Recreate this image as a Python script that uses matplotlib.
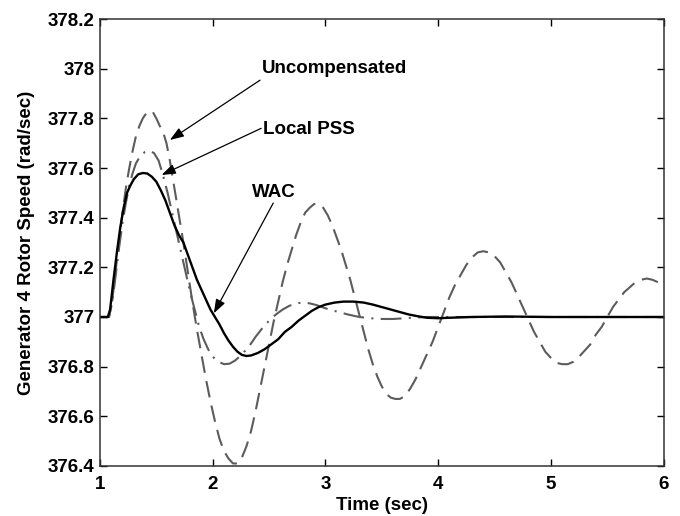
"""
generator 4 rotor speed after a disturbance: uncompensated, local PSS, WAC
"""
import numpy as np
import matplotlib
matplotlib.use('Agg')
import matplotlib.pyplot as plt

# --- Data
t_unc = [1.00, 1.08, 1.11, 1.14, 1.17, 1.20, 1.23, 1.26, 1.29, 1.32, 1.35, 1.38, 1.41, 1.44, 1.47,
         1.50, 1.53, 1.56, 1.59, 1.62, 1.66, 1.70, 1.74, 1.78, 1.82, 1.86, 1.90, 1.94, 1.98, 2.02,
         2.06, 2.10, 2.14, 2.18, 2.22, 2.26, 2.30, 2.34, 2.38, 2.42, 2.46, 2.50, 2.54, 2.58, 2.62,
         2.66, 2.70, 2.74, 2.78, 2.82, 2.86, 2.90, 2.94, 2.98, 3.02, 3.06, 3.10, 3.14, 3.18, 3.22,
         3.26, 3.30, 3.34, 3.38, 3.42, 3.46, 3.50, 3.54, 3.58, 3.62, 3.66, 3.70, 3.75, 3.80, 3.85,
         3.90, 3.95, 4.00, 4.05, 4.10, 4.15, 4.20, 4.25, 4.30, 4.35, 4.40, 4.45, 4.50, 4.55, 4.60,
         4.65, 4.70, 4.75, 4.80, 4.85, 4.90, 4.95, 5.00, 5.05, 5.10, 5.15, 5.20, 5.25, 5.30, 5.35,
         5.40, 5.45, 5.50, 5.55, 5.60, 5.65, 5.70, 5.75, 5.80, 5.85, 5.90, 5.95, 6.00]
w_unc = [377.00, 377.00, 377.07, 377.19, 377.31, 377.42, 377.52, 377.60, 377.67, 377.73, 377.77,
         377.80, 377.82, 377.83, 377.825, 377.80, 377.77, 377.745, 377.70, 377.63, 377.52, 377.41,
         377.30, 377.18, 377.06, 376.95, 376.85, 376.75, 376.66, 376.58, 376.51, 376.46, 376.43,
         376.41, 376.41, 376.435, 376.48, 376.54, 376.62, 376.71, 376.80, 376.89, 376.98, 377.06,
         377.14, 377.21, 377.27, 377.33, 377.38, 377.42, 377.44, 377.455, 377.455, 377.44, 377.41,
         377.37, 377.32, 377.27, 377.21, 377.15, 377.08, 377.01, 376.94, 376.87, 376.81, 376.76,
         376.72, 376.69, 376.675, 376.67, 376.67, 376.68, 376.71, 376.75, 376.80, 376.85, 376.90,
         376.96, 377.02, 377.08, 377.13, 377.17, 377.21, 377.24, 377.26, 377.265, 377.26, 377.245,
         377.22, 377.18, 377.14, 377.09, 377.04, 376.99, 376.94, 376.90, 376.86, 376.835, 376.815,
         376.81, 376.81, 376.82, 376.84, 376.865, 376.89, 376.93, 376.96, 377.00, 377.04, 377.07,
         377.10, 377.12, 377.14, 377.15, 377.155, 377.15, 377.14, 377.13]

t_pss = [1.00, 1.08, 1.11, 1.14, 1.17, 1.20, 1.23, 1.26, 1.29, 1.32, 1.36, 1.40, 1.44, 1.48, 1.52,
         1.56, 1.60, 1.64, 1.68, 1.72, 1.76, 1.80, 1.84, 1.88, 1.92, 1.96, 2.00, 2.05, 2.10, 2.15,
         2.20, 2.26, 2.32, 2.38, 2.44, 2.50, 2.56, 2.62, 2.68, 2.74, 2.80, 2.86, 2.92, 3.00, 3.10,
         3.20, 3.30, 3.40, 3.50, 3.60, 3.70, 3.80, 3.90, 4.20, 5.00, 6.00]
w_pss = [377.00, 377.00, 377.06, 377.17, 377.28, 377.38, 377.46, 377.53, 377.58, 377.62, 377.65,
         377.665, 377.67, 377.66, 377.63, 377.57, 377.50, 377.42, 377.34, 377.26, 377.18, 377.10,
         377.03, 376.96, 376.91, 376.87, 376.84, 376.82, 376.81, 376.812, 376.825, 376.85, 376.88,
         376.92, 376.955, 376.985, 377.01, 377.03, 377.045, 377.055, 377.058, 377.055, 377.048,
         377.035, 377.022, 377.01, 377.00, 376.995, 376.992, 376.992, 376.995, 376.998, 377.00,
         377.00, 377.00, 377.00]

t_wac = [1.00, 1.07, 1.09, 1.12, 1.15, 1.18, 1.21, 1.24, 1.27, 1.30, 1.34, 1.38, 1.42, 1.46, 1.50,
         1.54, 1.58, 1.62, 1.66, 1.70, 1.74, 1.78, 1.82, 1.86, 1.90, 1.94, 1.98, 2.02, 2.06, 2.10,
         2.14, 2.18, 2.22, 2.26, 2.30, 2.34, 2.40, 2.46, 2.52, 2.58, 2.64, 2.70, 2.76, 2.82, 2.88,
         2.94, 3.00, 3.08, 3.16, 3.25, 3.34, 3.42, 3.50, 3.58, 3.66, 3.74, 3.82, 3.90, 4.00, 4.10,
         4.30, 4.60, 5.00, 5.50, 6.00]
w_wac = [377.00, 377.00, 377.03, 377.15, 377.26, 377.36, 377.44, 377.50, 377.53, 377.555, 377.575,
         377.58, 377.578, 377.565, 377.545, 377.51, 377.47, 377.42, 377.37, 377.33, 377.30, 377.25,
         377.20, 377.15, 377.11, 377.07, 377.03, 377.00, 376.97, 376.935, 376.905, 376.88, 376.86,
         376.847, 376.843, 376.845, 376.855, 376.87, 376.89, 376.91, 376.94, 376.96, 376.985,
         377.005, 377.025, 377.04, 377.05, 377.058, 377.062, 377.062, 377.058, 377.05, 377.04,
         377.03, 377.02, 377.01, 377.003, 376.997, 376.995, 376.997, 377.00, 377.002, 377.00,
         377.00, 377.00]

xticks = [1, 2, 3, 4, 5, 6]
yticks = [376.4, 376.6, 376.8, 377.0, 377.2, 377.4, 377.6, 377.8, 378.0, 378.2]
ytick_labels = ['376.4', '376.6', '376.8', '377', '377.2', '377.4', '377.6', '377.8', '378', '378.2']

# annotations: label, text position, arrow tail, arrow head
notes = [('Uncompensated', (2.44, 378.0), (2.42, 377.954), (1.62, 377.713)),
         ('Local PSS', (2.445, 377.757), (2.43, 377.76), (1.547, 377.572)),
         ('WAC', (2.35, 377.50), (2.537, 377.459), (2.01, 377.015))]

# --- Plot
plt.rcParams['font.family'] = ['Liberation Sans', 'DejaVu Sans']
plt.rcParams['font.weight'] = 'bold'

fig, ax = plt.subplots(1, 1, figsize=(6.8, 5.16), dpi=100)
fig.subplots_adjust(left=0.147, right=0.976, top=0.963, bottom=0.097)

grey = '#5c5c5c'
ax.plot(np.array(t_unc), np.array(w_unc), color=grey, lw=1.5, dashes=(8, 4), label='Uncompensated')
ax.plot(np.array(t_pss), np.array(w_pss), color=grey, lw=1.5, dashes=(10, 3.5, 1, 3.5), label='Local PSS')
ax.plot(np.array(t_wac), np.array(w_wac), color='black', lw=1.7, label='WAC')

for label, txy, tail, head in notes:
    ax.text(txy[0], txy[1], label, fontsize=13.5, fontweight='bold', ha='left', va='center')
    ax.annotate('', xy=head, xytext=tail,
                arrowprops=dict(arrowstyle='-|>,head_length=0.7,head_width=0.25',
                                mutation_scale=12, color='black', lw=0.9,
                                shrinkA=0, shrinkB=0))

ax.set_xlim(1, 6)
ax.set_ylim(376.4, 378.2)
ax.set_xticks(xticks)
ax.set_xticklabels([str(x) for x in xticks])
ax.set_yticks(yticks)
ax.set_yticklabels(ytick_labels)
ax.set_xlabel('Time (sec)', fontsize=13.5, fontweight='bold', labelpad=3)
ax.set_ylabel('Generator 4 Rotor Speed (rad/sec)', fontsize=13.5, fontweight='bold', labelpad=9)
ax.tick_params(direction='in', length=5, width=1, top=True, right=True, labelsize=13.5)
ax.tick_params(axis='x', pad=7)
ax.tick_params(axis='y', pad=4)
for s in ax.spines.values():
    s.set_linewidth(1.1)
    s.set_color('#333333')

fig.savefig('out.png', dpi=100)
